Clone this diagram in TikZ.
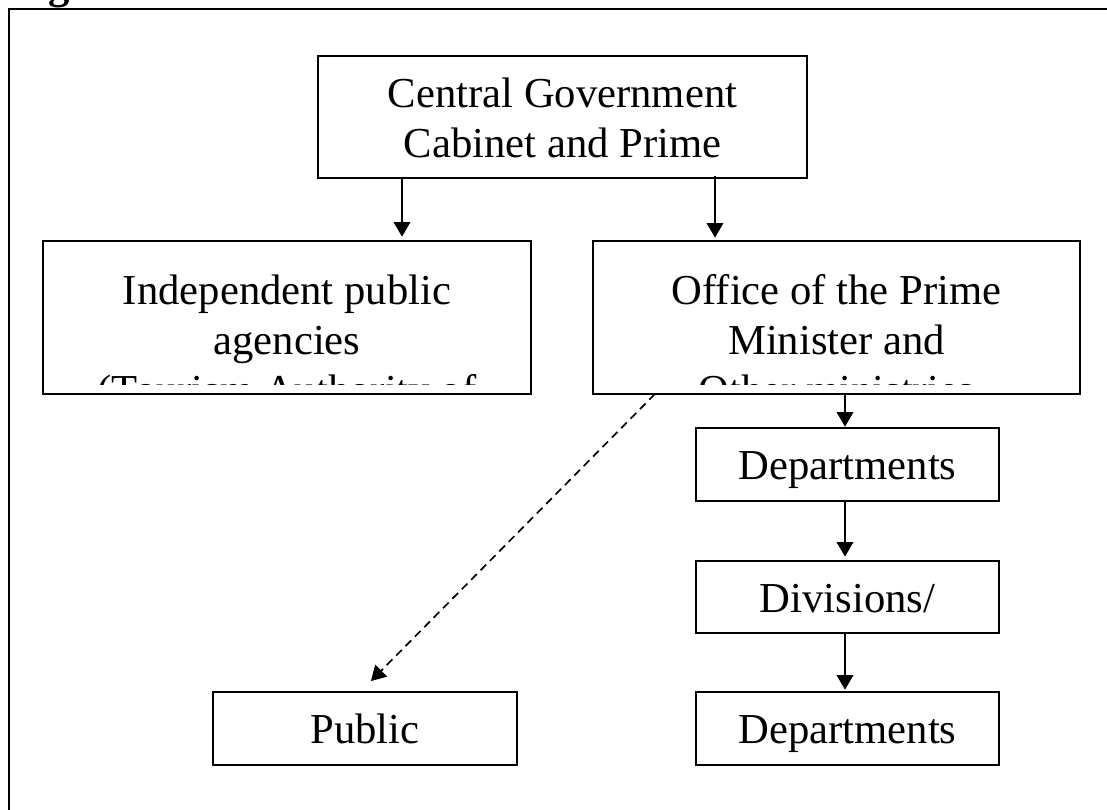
\documentclass[tikz,border=0pt]{standalone}
\usepackage{fontspec}
\setmainfont{Liberation Serif}
\usetikzlibrary{arrows.meta,calc}
\begin{document}
\begin{tikzpicture}[x=0.75pt,y=-0.75pt,
  box/.style={draw,line width=1.5pt,inner sep=0pt,outer sep=0pt},
  lbl/.style={anchor=base,inner sep=0pt,font=\fontsize{32}{37.5}\selectfont},
  arr/.style={line width=1.25pt,-{Triangle[length=11pt,width=12.5pt]},shorten >=1pt},
  dasharr/.style={arr,dash pattern=on 6pt off 4pt}]
\useasboundingbox (0,0) rectangle (1107,810);
% outer frame (cropped)
\draw[line width=1.5pt] (9,840) -- (9,9.3) -- (1130,9.3);
\node[lbl,anchor=base west,font=\bfseries\fontsize{32}{37.5}\selectfont] (fig) at (10,-2) {Fig};
% boxes
\node[box,minimum width=366.75pt,minimum height=91.5pt] (top) at (562.5,117) {};
\node[box,minimum width=366pt,minimum height=114.75pt] (indep) at (287,317.5) {};
\node[box,minimum width=365.25pt,minimum height=114.75pt] (office) at (836.5,317.5) {};
\node[box,minimum width=227.25pt,minimum height=54.75pt] (dep1) at (847.5,464.5) {};
\node[box,minimum width=227.25pt,minimum height=54pt] (div) at (847.5,597) {};
\node[box,minimum width=227.25pt,minimum height=54.75pt] (dep2) at (847.5,728.5) {};
\node[box,minimum width=228pt,minimum height=54.75pt] (public) at (365,728.5) {};
% texts
\node[lbl] (t1) at (562.5,107) {Central Government};
\node[lbl] (t2) at (562.5,157) {Cabinet and Prime};
\node[lbl] (i1) at (287,304) {Independent public};
\node[lbl] (i2) at (287,354) {agencies};
\node[lbl] (o1) at (836.5,304) {Office of the Prime};
\node[lbl] (o2) at (836.5,354) {Minister and};
\begin{scope}
  \clip (indep.north west) rectangle ($(indep.south east)+(0,-10)$);
  \node[lbl] (i3) at (287,404) {(Tourism Authority of};
\end{scope}
\begin{scope}
  \clip (office.north west) rectangle ($(office.south east)+(0,-10)$);
  \node[lbl] (o3) at (836.5,404) {Other ministries};
\end{scope}
\node[lbl] (d1) at (847.5,479.5) {Departments};
\node[lbl] (v1) at (847.5,612) {Divisions/};
\node[lbl] (d2) at (847.5,743.5) {Departments};
\node[lbl] (p1) at (365,743.5) {Public};
% connectors
\draw[arr] ($(top.south)+(-160.5,0)$) -- ($(indep.north)+(115,-3)$);
\draw[arr] ($(top.south)+(152.5,-2)$) -- ($(office.north)+(-121.5,-2)$);
\draw[arr] ($(office.south)+(8.5,0)$) -- ($(dep1.north)+(-2.5,0)$);
\draw[arr] ($(dep1.south)+(-2.5,0)$) -- ($(div.north)+(-2.5,-3)$);
\draw[arr] ($(div.south)+(-2.5,0)$) -- ($(dep2.north)+(-2.5,-1)$);
\draw[dasharr] ($(office.south west)+(62,0)$) -- ($(public.north)+(5,-10)$);
\end{tikzpicture}
\end{document}
